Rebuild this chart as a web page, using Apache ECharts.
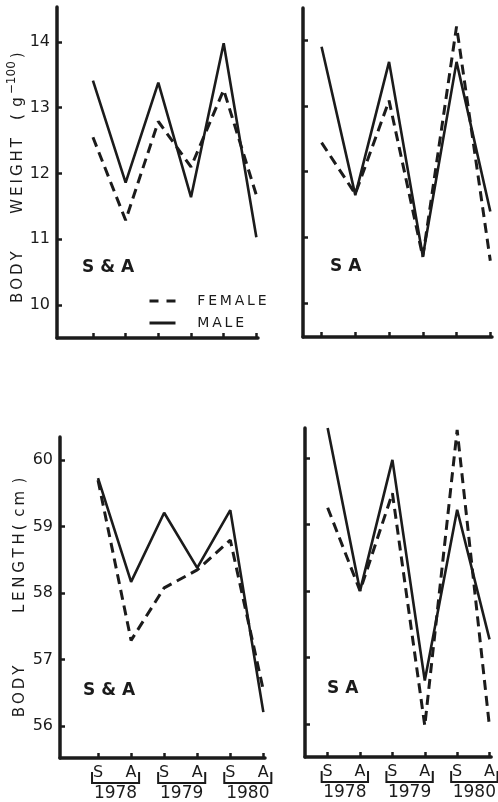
<!DOCTYPE html>
<html>
<head>
<meta charset="utf-8">
<script src="https://cdn.jsdelivr.net/npm/echarts@6/dist/echarts.min.js"></script>
<style>
  html, body { margin: 0; padding: 0; background: #fff; }
  #chart { width: 498px; height: 802px; }
</style>
</head>
<body>
<div id="chart"></div>
<script>
// x positions: 0..5 = S78, A78, S79, A79, S80, A80
const seasons = ['S', 'A', 'S', 'A', 'S', 'A'];
const years = ['1978', '1979', '1980'];
const xTicks = [0, 1, 2, 3, 4, 5];
const weightTicks = [10, 11, 12, 13, 14];
const lengthTicks = [56, 57, 58, 59, 60];

// body weight (g^-100), S & A
const weightSAFemale = [12.55, 11.29, 12.79, 12.1, 13.27, 11.67];
const weightSAMale = [13.41, 11.86, 13.38, 11.64, 13.98, 11.03];
// body weight, SA
const weightSFemale = [12.44, 11.66, 13.08, 10.7, 14.21, 10.64];
const weightSMale = [13.9, 11.64, 13.67, 10.71, 13.67, 11.39];
// body length (cm), S & A
const lengthSAFemale = [59.7, 57.29, 58.08, 58.35, 58.8, 56.54];
const lengthSAMale = [59.73, 58.17, 59.21, 58.38, 59.25, 56.21];
// body length, SA
const lengthSFemale = [59.25, 58.0, 59.47, 55.97, 60.42, 55.95];
const lengthSMale = [60.45, 58.0, 59.97, 56.65, 59.22, 57.27];

const INK = '#1b1b1b';
const FONT = 'DejaVu Sans';
const sp = '\u2009';
const em = '\u2003', en = '\u2002';
const spaced = (s, gap) => s.split('').join(gap || sp);

const dom = document.getElementById('chart');
const myEchart = echarts.init(dom, null, { renderer: 'canvas' });

const grids = [
  { left: 57, top: 7, width: 201, height: 331 },
  { left: 303, top: 8, width: 189, height: 329 },
  { left: 60, top: 437, width: 205, height: 321 },
  { left: 305, top: 428, width: 192, height: 329 }
];
const xRanges = [[-1.1, 5.05], [-0.55, 5.05], [-1.15, 5.05], [-0.7, 5.05]];
const yRanges = [[9.5, 14.53], [9.48, 14.49], [55.52, 60.35], [55.5, 60.45]];

const xAxes = grids.map((g, i) => ({
  type: 'value',
  gridIndex: i,
  min: xRanges[i][0],
  max: xRanges[i][1],
  splitLine: { show: false },
  axisLine: { show: true, onZero: false, lineStyle: { color: INK, width: 3.5 } },
  axisTick: { show: true, inside: true, length: 5, customValues: xTicks, lineStyle: { color: INK, width: 2.5 } },
  axisLabel: {
    show: i >= 2,
    customValues: xTicks,
    margin: 7,
    color: INK,
    fontFamily: FONT,
    fontSize: 16,
    formatter: v => seasons[Math.round(v)]
  }
}));

const weightName = '{t|' + spaced('BODY') + em + em + en + spaced('WEIGHT') + em + sp + '(' + en + 'g' + sp + '}'
  + '{s|\u2212100}{t|' + sp + ')' + en + sp + '}';
const lengthName = '{t|' + spaced('BODY') + em + em + em + en + spaced('LENGTH', '\u2005') + sp
  + '(' + en + 'c' + sp + 'm' + en + ')}';

const yAxes = grids.map((g, i) => ({
  type: 'value',
  gridIndex: i,
  min: yRanges[i][0],
  max: yRanges[i][1],
  splitLine: { show: false },
  axisLine: { show: true, onZero: false, lineStyle: { color: INK, width: 3.5 } },
  axisTick: { show: true, inside: true, length: 5, customValues: i < 2 ? weightTicks : lengthTicks, lineStyle: { color: INK, width: 2.5 } },
  axisLabel: {
    show: i === 0 || i === 2,
    customValues: i < 2 ? weightTicks : lengthTicks,
    margin: 7,
    color: INK,
    fontFamily: FONT,
    fontSize: 16
  },
  name: i === 0 ? weightName : (i === 2 ? lengthName : ''),
  nameLocation: 'middle',
  nameGap: i === 0 ? 26 : 32,
  nameRotate: 90,
  nameTextStyle: {
    color: INK,
    fontFamily: FONT,
    rich: {
      t: { fontSize: 15, color: INK, fontFamily: FONT },
      s: { fontSize: 12, color: INK, fontFamily: FONT, padding: [0, 0, 12, 0] }
    }
  }
}));

const panels = [
  [weightSAFemale, weightSAMale],
  [weightSFemale, weightSMale],
  [lengthSAFemale, lengthSAMale],
  [lengthSFemale, lengthSMale]
];

const series = [];
panels.forEach(([female, male], i) => {
  series.push({
    name: 'MALE', type: 'line', xAxisIndex: i, yAxisIndex: i,
    data: male.map((v, k) => [k, v]),
    symbol: 'none', clip: false,
    itemStyle: { color: INK },
    lineStyle: { color: INK, width: 2.6 }
  });
  series.push({
    name: 'FEMALE', type: 'line', xAxisIndex: i, yAxisIndex: i,
    data: female.map((v, k) => [k, v]),
    symbol: 'none', clip: false,
    itemStyle: { color: INK },
    lineStyle: { color: INK, width: 3, type: [10, 6] }
  });
});

const panelLabels = [
  { text: 'S & A', x: 82, y: 268 },
  { text: 'S A', x: 330, y: 267 },
  { text: 'S & A', x: 83, y: 691 },
  { text: 'S A', x: 327, y: 689 }
];

const options = {
  backgroundColor: '#fff',
  animation: false,
  grid: grids,
  xAxis: xAxes,
  yAxis: yAxes,
  legend: {
    left: 143, top: 289,
    orient: 'vertical',
    itemWidth: 26, itemHeight: 10, itemGap: 8,
    data: [
      { name: 'FEMALE', itemStyle: { opacity: 0 }, lineStyle: { type: [9, 8], width: 3 } },
      { name: 'MALE', itemStyle: { opacity: 0 }, lineStyle: { width: 3 } }
    ],
    formatter: n => em + sp + spaced(n),
    textStyle: { color: INK, fontFamily: FONT, fontSize: 14 }
  },
  series: series,
  graphic: panelLabels.map(p => ({
    type: 'text', left: p.x, top: p.y - 9,
    style: { text: p.text, fill: INK, font: 'bold 17px "' + FONT + '"' }
  }))
};
myEchart.setOption(options);

// year brackets under each S/A pair of the lower panels
const extra = [];
[2, 3].forEach(ax => {
  const axisY = myEchart.convertToPixel({ yAxisIndex: ax }, yRanges[ax][0]);
  years.forEach((yr, k) => {
    const xs = myEchart.convertToPixel({ xAxisIndex: ax }, 2 * k) - 6;
    const xa = myEchart.convertToPixel({ xAxisIndex: ax }, 2 * k + 1) + 8;
    extra.push({
      type: 'polyline',
      shape: { points: [[xs, axisY + 14], [xs, axisY + 25], [xa, axisY + 25], [xa, axisY + 14]] },
      style: { stroke: INK, lineWidth: 2, fill: null }
    });
    extra.push({
      type: 'text', x: (xs + xa) / 2, y: axisY + 36,
      style: { text: yr, fill: INK, font: '17px "' + FONT + '"', align: 'center', verticalAlign: 'middle' }
    });
  });
});
myEchart.setOption({ graphic: options.graphic.concat(extra) });
</script>
</body>
</html>
